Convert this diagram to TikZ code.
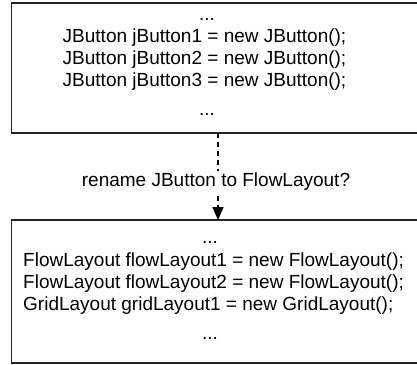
\documentclass[tikz,border=0pt]{standalone}
\usepackage{fontspec}
\setmainfont{Liberation Sans}
\usetikzlibrary{arrows.meta}
\begin{document}
\begin{tikzpicture}[x=1pt,y=-1pt,
  frame/.style={draw=black!85,line width=1.3pt},
  codeline/.style={inner sep=0pt,anchor=base west,font=\fontsize{19}{22}\selectfont},
  dots/.style={inner sep=0pt,anchor=base,font=\fontsize{19}{22}\selectfont},
  flow/.style={draw=black,line width=1.3pt,dash pattern=on 5pt off 4pt,
    -{Triangle[width=11pt,length=13pt]}},
  note/.style={fill=white,inner sep=2pt,font=\fontsize{19}{22}\selectfont}]
\useasboundingbox (0,0) rectangle (417,364);
\begin{scope}
\clip (0,0) rectangle (417,364);
% the two code listings
\draw[frame] (11.5,3) rectangle (430,133);
\draw[frame] (11.5,220) rectangle (430,363);
\end{scope}
\coordinate (top) at (218,133);
\coordinate (bottom) at (218,220);
% listing before the rename
\node[dots] (a0) at (207,20) {...};
\node[codeline] (a1) at (62.5,42) {JButton jButton1 = new JButton();};
\node[codeline] (a2) at (62.5,64) {JButton jButton2 = new JButton();};
\node[codeline] (a3) at (62.5,86) {JButton jButton3 = new JButton();};
\node[dots] (a4) at (207,115) {...};
% listing after the rename
\node[dots] (b0) at (210,243) {...};
\node[codeline] (b1) at (23,266) {FlowLayout flowLayout1 = new FlowLayout();};
\node[codeline] (b2) at (23,288) {FlowLayout flowLayout2 = new FlowLayout();};
\node[codeline] (b3) at (23,310) {GridLayout gridLayout1 = new GridLayout();};
\node[dots] (b4) at (210,339) {...};
% the rename step
\draw[flow] (top) -- (bottom);
\node[note] (q) at (216,182) {rename JButton to FlowLayout?};
\end{tikzpicture}
\end{document}
